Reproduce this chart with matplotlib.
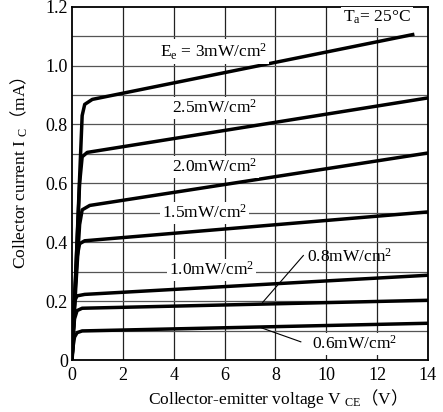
import matplotlib
matplotlib.use("Agg")
import matplotlib.pyplot as plt

plt.rcParams['font.family'] = ['Liberation Serif', 'Noto Sans CJK JP']
plt.rcParams['mathtext.fontset'] = 'custom'
plt.rcParams['mathtext.rm'] = 'Liberation Serif'
plt.rcParams['mathtext.it'] = 'Liberation Serif'
plt.rcParams['mathtext.sf'] = 'Noto Sans CJK JP'

# curves: V_CE (V), I_C (mA)
v_3_0 = [0, 0.15, 0.3, 0.4, 0.5, 0.8, 13.4]
i_3_0 = [0, 0.3, 0.62, 0.83, 0.868, 0.885, 1.105]
v_2_5 = [0, 0.15, 0.3, 0.4, 0.6, 14]
i_2_5 = [0, 0.3, 0.6, 0.69, 0.705, 0.89]
v_2_0 = [0, 0.15, 0.3, 0.4, 0.7, 14]
i_2_0 = [0, 0.25, 0.46, 0.51, 0.525, 0.703]
v_1_5 = [0, 0.1, 0.2, 0.3, 0.5, 14]
i_1_5 = [0, 0.2, 0.35, 0.395, 0.405, 0.503]
v_1_0 = [0, 0.05, 0.1, 0.2, 0.5, 14]
i_1_0 = [0, 0.12, 0.2, 0.218, 0.223, 0.288]
v_0_8 = [0, 0.05, 0.1, 0.2, 0.4, 14]
i_0_8 = [0, 0.09, 0.14, 0.168, 0.176, 0.203]
v_0_6 = [0, 0.05, 0.1, 0.2, 0.4, 14]
i_0_6 = [0, 0.05, 0.078, 0.093, 0.099, 0.125]

curves = [(v_3_0, i_3_0), (v_2_5, i_2_5), (v_2_0, i_2_0), (v_1_5, i_1_5),
          (v_1_0, i_1_0), (v_0_8, i_0_8), (v_0_6, i_0_6)]

x_ticks = [0, 2, 4, 6, 8, 10, 12, 14]
y_ticks = [0, 0.2, 0.4, 0.6, 0.8, 1.0, 1.2]
y_tick_labels = ["0", "0.2", "0.4", "0.6", "0.8", "1.0", "1.2"]
y_grid = [0.1, 0.2, 0.3, 0.4, 0.5, 0.6, 0.7, 0.8, 0.9, 1.0, 1.1]

fig = plt.figure(figsize=(4.43, 4.12), dpi=100)
ax = fig.add_axes([0.1625, 0.126, 0.8035, 0.858])

for x in x_ticks[1:-1]:
    ax.axvline(x, color='#222222', lw=0.9, zorder=1)
for y in y_grid:
    ax.axhline(y, color='#555555', lw=0.9, zorder=1)

for v, i in curves:
    ax.plot(v, i, color='black', lw=2.5, solid_joinstyle='round', zorder=3)

box = dict(facecolor='white', edgecolor='none', pad=1.5)
fs = 12.5
sq = "$^\\mathregular{2}$"
ax.text(5.55, 1.047, "E$_\\mathregular{e}$ = 3mW/cm" + sq, ha='center', va='center', fontsize=fs, bbox=box, zorder=4)
ax.text(5.6, 0.857, "2.5mW/cm" + sq, ha='center', va='center', fontsize=fs, bbox=box, zorder=4)
ax.text(5.6, 0.655, "2.0mW/cm" + sq, ha='center', va='center', fontsize=fs, bbox=box, zorder=4)
ax.text(5.2, 0.5, "1.5mW/cm" + sq, ha='center', va='center', fontsize=fs, bbox=box, zorder=4)
ax.text(5.5, 0.305, "1.0mW/cm" + sq, ha='center', va='center', fontsize=fs, bbox=box, zorder=4)
ax.text(10.9, 0.352, "0.8mW/cm" + sq, ha='center', va='center', fontsize=fs, zorder=4)
ax.text(11.1, 0.055, "0.6mW/cm" + sq, ha='center', va='center', fontsize=fs, bbox=box, zorder=4)
ax.text(12.0, 1.163, "T$_\\mathregular{a}$= 25°C", ha='center', va='center', fontsize=fs, bbox=box, zorder=4)

ax.plot([9.1, 7.5], [0.355, 0.196], color='black', lw=0.8, zorder=4)
ax.plot([9.0, 7.4], [0.062, 0.111], color='black', lw=0.8, zorder=4)

ax.set_xlim(0, 14)
ax.set_ylim(0, 1.2)
ax.set_xticks(x_ticks)
ax.set_yticks(y_ticks)
ax.set_yticklabels(y_tick_labels)
ax.tick_params(length=0, labelsize=13)
ax.tick_params(axis='x', pad=5)
ax.tick_params(axis='y', pad=3)
for s in ax.spines.values():
    s.set_linewidth(1.3)

ax.set_xlabel("Collector-emitter voltage V $_\\mathregular{CE}$$\\mathsf{（}$V$\\mathsf{）}$", fontsize=12.5, labelpad=4)
ax.set_ylabel("Collector current I $_\\mathregular{C}$$\\mathsf{（}$mA$\\mathsf{）}$", fontsize=12.5, labelpad=6)
ax.xaxis.set_label_coords(0.565, -0.075)
ax.yaxis.set_label_coords(-0.118, 0.53)

fig.savefig("out.png", dpi=100)
